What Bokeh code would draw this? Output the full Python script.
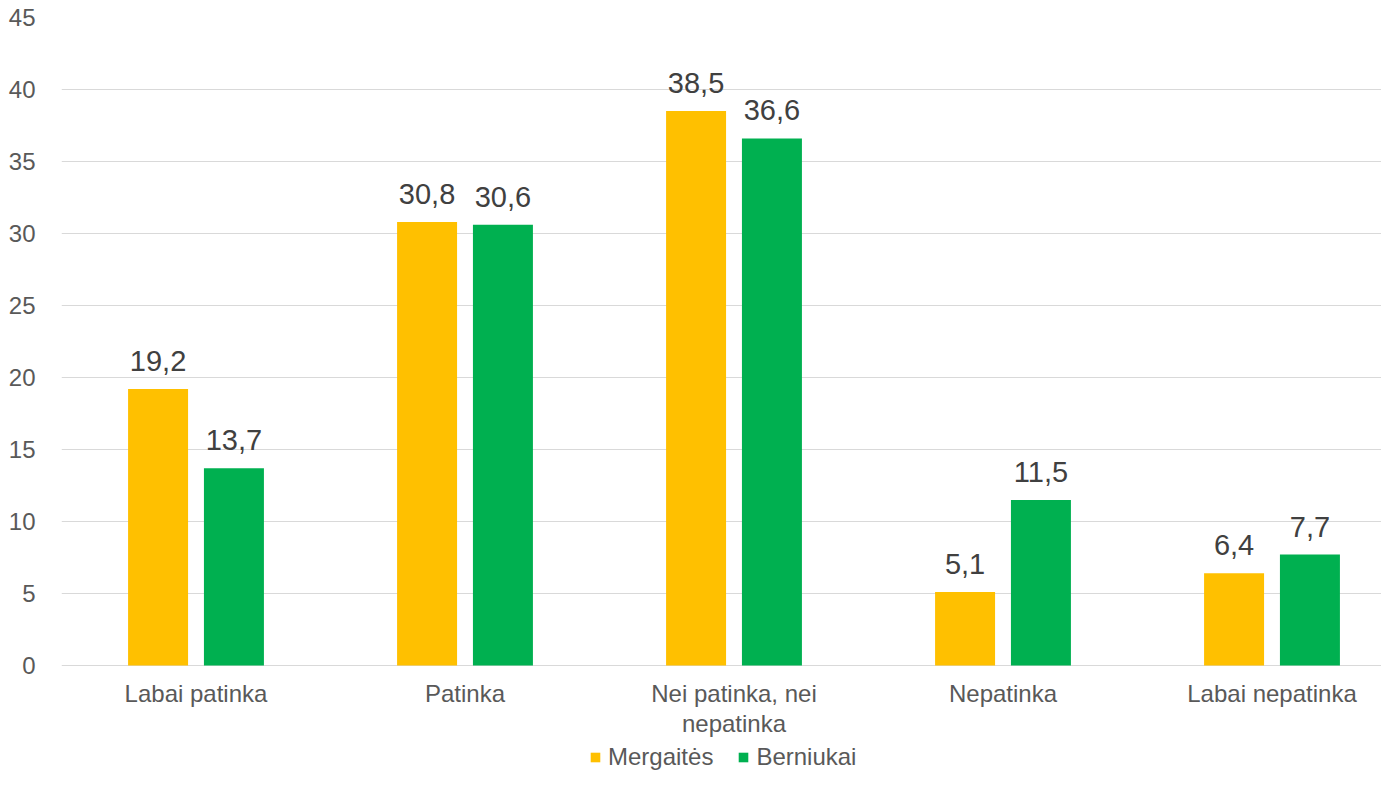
from bokeh.plotting import figure
from bokeh.models import (ColumnDataSource, Range1d, Legend, LegendItem, LabelSet, FixedTicker)
from bokeh.core.properties import value
from bokeh.transform import dodge
from bokeh.embed import file_html
from bokeh.resources import INLINE

categories = ["Labai patinka", "Patinka", "Nei patinka, nei\nnepatinka", "Nepatinka", "Labai nepatinka"]
mergaites = [19.2, 30.8, 38.5, 5.1, 6.4]
berniukai = [13.7, 30.6, 36.6, 11.5, 7.7]
series_names = ["Mergaitės", "Berniukai"]
colors = ["#FFC000", "#00B050"]
y_ticks = [0, 5, 10, 15, 20, 25, 30, 35, 40, 45]

fmt = lambda v: f"{v:.1f}".replace(".", ",")
xs = [i + 1 for i in range(len(categories))]
src = ColumnDataSource(dict(
    x=xs, m=mergaites, b=berniukai, zero=[0] * len(xs), cat=categories,
    ml=[fmt(v) for v in mergaites], bl=[fmt(v) for v in berniukai],
))

FONT = "Liberation Sans"
TXT = "#595959"

W, H = 1381, 771
TOP, LEFT = 17, 61
PLOT_H = 648  # pixel height from 0 to 45
ymax = y_ticks[-1]
ymin = -(H - TOP - PLOT_H) * ymax / PLOT_H

p = figure(width=W, height=H, x_range=Range1d(0.5, 0.5 + (W - LEFT) / 269),
           y_range=Range1d(ymin, ymax), output_backend="svg", toolbar_location=None,
           min_border_left=LEFT, min_border_right=0, min_border_top=TOP, min_border_bottom=0)
p.outline_line_color = None

off = 0.141
w = 0.223
r1 = p.vbar(x=dodge("x", -off), top="m", width=w, source=src,
            color=colors[0], line_color=None)
r2 = p.vbar(x=dodge("x", off), top="b", width=w, source=src,
            color=colors[1], line_color=None)

for col, lab, d in [("m", "ml", -off), ("b", "bl", off)]:
    ls = LabelSet(x=dodge("x", d), y=col, text=lab, source=src,
                  text_align="center", text_baseline="alphabetic", y_offset=18,
                  text_font=value(FONT), text_font_size="29px", text_color="#404040")
    p.add_layout(ls)

# category labels under the zero line
p.text(x="x", y="zero", text="cat", source=src, text_align="center", text_baseline="top",
       y_offset=14, text_font=value(FONT), text_font_size="24px", text_color=TXT,
       text_line_height=1.125)

p.yaxis.ticker = FixedTicker(ticks=y_ticks)
p.yaxis.axis_line_color = None
p.yaxis.major_tick_line_color = None
p.yaxis.minor_tick_line_color = None
p.yaxis.major_label_text_font = FONT
p.yaxis.major_label_text_font_size = "24px"
p.yaxis.major_label_text_color = TXT
p.yaxis.major_label_standoff = 20

p.xaxis.visible = False
p.xgrid.grid_line_color = None
p.ygrid.ticker = FixedTicker(ticks=y_ticks)
p.ygrid.grid_line_color = "#D9D9D9"
p.ygrid.grid_line_width = 1

legend = Legend(items=[LegendItem(label=series_names[0], renderers=[r1]),
                       LegendItem(label=series_names[1], renderers=[r2])],
                orientation="horizontal", location=(528, 0),
                glyph_width=12, glyph_height=12, label_text_font=FONT,
                label_text_font_size="24px", label_text_color=TXT,
                padding=0, margin=0, spacing=24, label_standoff=7,
                background_fill_alpha=0, border_line_color=None, label_height=24)
p.add_layout(legend, "center")

open("out.html", "w").write(file_html(p, INLINE))
